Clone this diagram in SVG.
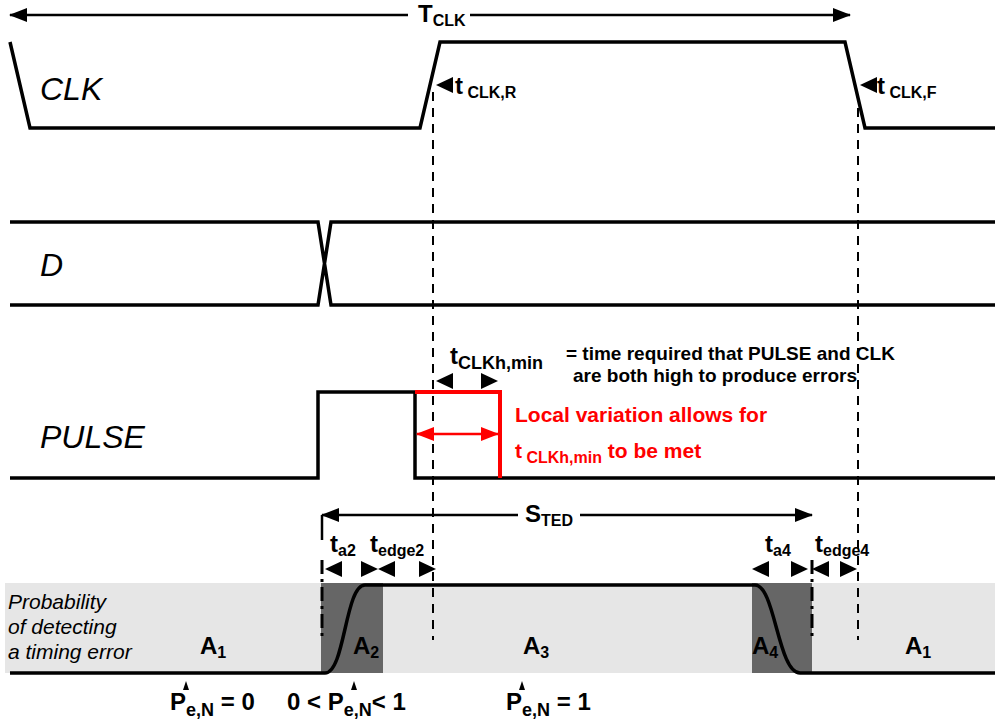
<svg xmlns="http://www.w3.org/2000/svg" width="1000" height="725" viewBox="0 0 1000 725">
<style>
.w{fill:none;stroke:#000;stroke-width:3.5}
.d{fill:none;stroke:#000;stroke-width:2;stroke-dasharray:9,7}
.dd{fill:none;stroke:#000;stroke-width:3;stroke-dasharray:14,5,3,5}
.a{fill:none;stroke:#000;stroke-width:2.5}
.t{font-family:"Liberation Sans",Arial,sans-serif;font-weight:bold;font-size:24px}
.s{font-size:16px}
.lab{font-family:"Liberation Sans",Arial,sans-serif;font-style:italic;font-size:32px}
.r{fill:#f00;font-family:"Liberation Sans",Arial,sans-serif;font-weight:bold;font-size:21px}
</style>
<defs>
<marker id="arB" markerWidth="18" markerHeight="14" refX="17" refY="7" orient="auto-start-reverse" markerUnits="userSpaceOnUse"><path d="M0,0 L18,7 L0,14 z" fill="#000"/></marker>
<marker id="arR" markerWidth="18" markerHeight="14" refX="17" refY="7" orient="auto-start-reverse" markerUnits="userSpaceOnUse"><path d="M0,0 L18,7 L0,14 z" fill="#f00"/></marker>
<path id="L" d="M0,0 L17,-8 L17,8 z"/>
<path id="R" d="M0,0 L-17,-8 L-17,8 z"/>
</defs>
<rect width="1000" height="725" fill="#fff"/>
<g id="background">
<rect x="5" y="583" width="990" height="90" fill="#e6e6e6"/>
<rect x="321" y="583" width="62" height="90" fill="#666"/>
<rect x="752" y="583" width="60" height="90" fill="#666"/>
</g>
<g id="clk">
<path class="w" d="M10,42 L30,128 L420,128 L440,42 L845,42 L865,128 L995,128"/>
<text class="lab" x="40" y="100">CLK</text>
</g>
<g id="d">
<path class="w" d="M10,222 L318,222 L331,305 L995,305 M10,305 L318,305 L331,222 L995,222"/>
<text class="lab" x="40" y="276">D</text>
</g>
<g id="pulse">
<path class="w" d="M10,478 L318,478 L318,392 L415,392 L415,478 L995,478"/>
<path d="M415,392 L500,392 L500,478" fill="none" stroke="#f00" stroke-width="4"/>
<text class="lab" x="40" y="448">PULSE</text>
</g>
<g id="prob">
<path class="w" d="M10,673 L325,673 C345,673 345,585 365,585 C375,585 378,585 383,585 L755,585 C775,585 778,673 800,673 L995,673"/>
<text font-family="Liberation Sans,Arial,sans-serif" font-style="italic" font-size="21" x="8" y="609">Probability</text>
<text font-family="Liberation Sans,Arial,sans-serif" font-style="italic" font-size="21" x="8" y="634">of detecting</text>
<text font-family="Liberation Sans,Arial,sans-serif" font-style="italic" font-size="21" x="8" y="659">a timing error</text>
<text class="t" x="200" y="654">A<tspan class="s" dy="4">1</tspan></text>
<text class="t" x="353" y="654">A<tspan class="s" dy="4">2</tspan></text>
<text class="t" x="523" y="654">A<tspan class="s" dy="4">3</tspan></text>
<text class="t" x="752" y="654">A<tspan class="s" dy="4">4</tspan></text>
<text class="t" x="905" y="654">A<tspan class="s" dy="4">1</tspan></text>
<text class="t" x="170" y="710">P<tspan dy="6" font-size="18">e,N</tspan><tspan dy="-6"> = 0</tspan></text>
<text class="t" x="287" y="710">0 &lt; P<tspan dy="6" font-size="18">e,N</tspan><tspan dy="-6">&lt; 1</tspan></text>
<text class="t" x="506" y="710">P<tspan dy="6" font-size="18">e,N</tspan><tspan dy="-6"> = 1</tspan></text>
<path d="M189,690 l-3,-9 l-3,9z M357,690 l-3,-9 l-3,9z M525,690 l-3,-9 l-3,9z" fill="#000"/>
</g>
<g id="connectors">
<line class="a" x1="10" y1="15" x2="408" y2="15" marker-start="url(#arB)"/>
<line class="a" x1="470" y1="15" x2="850" y2="15" marker-end="url(#arB)"/>
<text class="t" x="418" y="22">T<tspan class="s" dy="4">CLK</tspan></text>
<use href="#L" x="436" y="85"/>
<text class="t" x="455" y="94">t<tspan class="s" dy="4"> CLK,R</tspan></text>
<use href="#L" x="860" y="85"/>
<text class="t" x="877" y="94">t<tspan class="s" dy="4"> CLK,F</tspan></text>
<line class="d" x1="433" y1="92" x2="433" y2="640"/>
<line class="d" x1="858" y1="108" x2="858" y2="640"/>
<use href="#L" x="436" y="381"/>
<use href="#R" x="498" y="381"/>
<text class="t" x="450" y="364">t<tspan dy="5" font-size="18">CLKh,min</tspan></text>
<text font-family="Liberation Sans,Arial,sans-serif" font-weight="bold" font-size="19" x="566" y="360">= time required that PULSE and CLK</text>
<text font-family="Liberation Sans,Arial,sans-serif" font-weight="bold" font-size="19" x="573" y="382">are both high to produce errors</text>
<line x1="417" y1="434" x2="498" y2="434" stroke="#f00" stroke-width="2.5" marker-start="url(#arR)" marker-end="url(#arR)"/>
<text class="r" x="515" y="422">Local variation allows for</text>
<text class="r" x="515" y="458">t<tspan font-size="16" dy="5"> CLKh,min</tspan><tspan dy="-5"> to be met</tspan></text>
<line class="a" x1="322" y1="515" x2="518" y2="515" marker-start="url(#arB)"/>
<line class="a" x1="580" y1="515" x2="812" y2="515" marker-end="url(#arB)"/>
<text class="t" x="525" y="522">S<tspan class="s" dy="4">TED</tspan></text>
<line class="a" x1="322" y1="515" x2="322" y2="540"/>
<line class="dd" x1="322" y1="560" x2="322" y2="640"/>
<line class="dd" x1="812" y1="560" x2="812" y2="640"/>
<use href="#L" x="325" y="569"/>
<use href="#R" x="378" y="569"/>
<use href="#L" x="378" y="569"/>
<use href="#R" x="436" y="569"/>
<use href="#L" x="752" y="569"/>
<use href="#R" x="808" y="569"/>
<use href="#L" x="812" y="569"/>
<use href="#R" x="857" y="569"/>
<text class="t" x="330" y="552">t<tspan class="s" dy="4">a2</tspan></text>
<text class="t" x="370" y="552">t<tspan class="s" dy="4">edge2</tspan></text>
<text class="t" x="765" y="552">t<tspan class="s" dy="4">a4</tspan></text>
<text class="t" x="815" y="552">t<tspan class="s" dy="4">edge4</tspan></text>
</g>
</svg>
